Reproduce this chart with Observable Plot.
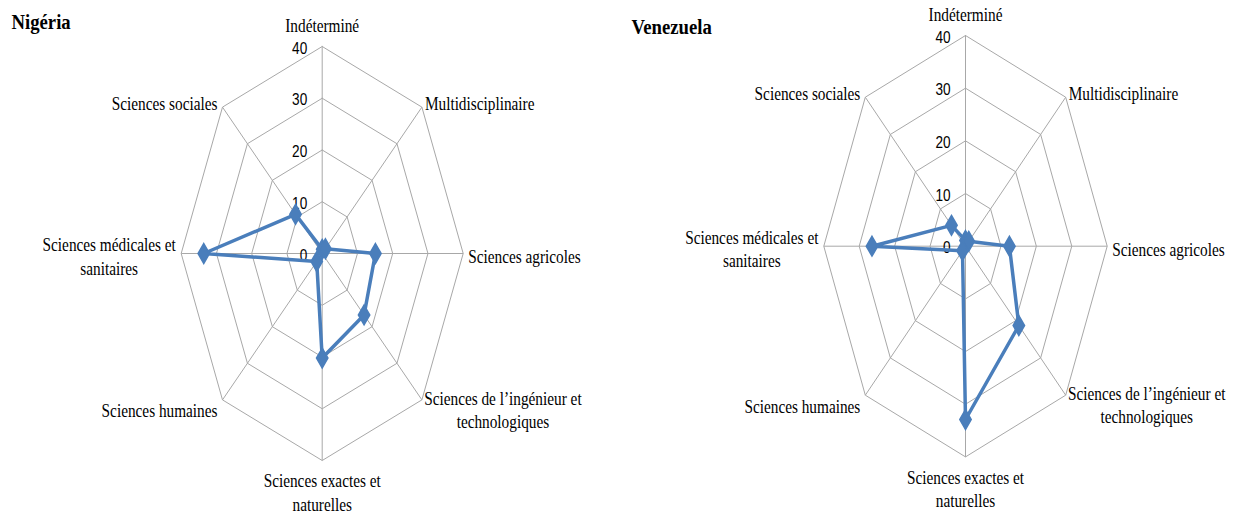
<!DOCTYPE html>
<html>
<head>
<meta charset="utf-8">
<script src="https://cdn.jsdelivr.net/npm/d3@7"></script>
<script src="https://cdn.jsdelivr.net/npm/@observablehq/plot@0.6"></script>
<style>
  body { margin: 0; background: #fff; }
  #wrap { display: flex; width: 1235px; height: 515px; }
</style>
</head>
<body>
<div id="wrap"></div>
<script>
// ---- data ----
const categories = [
  "Indéterminé",
  "Multidisciplinaire",
  "Sciences agricoles",
  "Sciences de l’ingénieur et technologiques",
  "Sciences exactes et naturelles",
  "Sciences humaines",
  "Sciences médicales et sanitaires",
  "Sciences sociales"
];
const categoryLabels = [
  "Indéterminé",
  "Multidisciplinaire",
  "Sciences agricoles",
  "Sciences de l’ingénieur et\ntechnologiques",
  "Sciences exactes et\nnaturelles",
  "Sciences humaines",
  "Sciences médicales et\nsanitaires",
  "Sciences sociales"
];
const nigeria   = [0.8, 1.3, 15.1, 16.8, 20.2, 2.2, 33.6, 10.7];
const venezuela = [1.1, 1.3, 12.4, 21.3, 32.9, 1.2, 26.4, 5.6];
const tickValues = [0, 10, 20, 30, 40];
const countries = ["Nigéria", "Venezuela"];

// ---- layout (not data) ----
const layouts = [
  {width: 620, cx: 321.7, cy: 253, rx: 141, ry: 207, titleDy: 21},
  {width: 615, cx: 345, cy: 245.7, rx: 141.7, ry: 210.7, titleDy: 26}
];
const labelPlacement = [
  {anchor: "middle", dx: 0,   dy: -22},
  {anchor: "start",  dx: 3,   dy: -5},
  {anchor: "start",  dx: 5,   dy: 2},
  {anchor: "middle", dx: 81,  dy: 9},
  {anchor: "middle", dx: 0,   dy: 31},
  {anchor: "end",    dx: -5,  dy: 10},
  {anchor: "middle", dx: -72, dy: 2},
  {anchor: "end",    dx: -5,  dy: -5}
];
const SERIF = "Liberation Serif";
const MAX = 40;
const n = categories.length;
const ang = i => (i * 2 * Math.PI) / n;
const px = (i, r) => r * Math.sin(ang(i));
const py = (i, r) => r * Math.cos(ang(i));

const blue = "#4a7ebb";
const grey = "#a8a8a8";

function radar(values, title, L) {
  const rings = [];
  for (const t of tickValues.filter(t => t > 0)) {
    for (let i = 0; i <= n; i++) rings.push({ring: t, x: px(i % n, t), y: py(i % n, t)});
  }
  const spokes = categories.map((c, i) => ({x: px(i, MAX), y: py(i, MAX)}));
  const pts = values.map((v, i) => ({cat: categories[i], v, x: px(i, v), y: py(i, v)}));
  const labelMarks = categoryLabels.map((lab, i) => Plot.text([lab], {
    x: px(i, MAX), y: py(i, MAX), text: d => d,
    textAnchor: labelPlacement[i].anchor, lineAnchor: "middle",
    dx: labelPlacement[i].dx, dy: labelPlacement[i].dy,
    fontSize: 18, lineHeight: 1.3, fill: "#000", fontFamily: SERIF
  }));

  const svg = Plot.plot({
    width: L.width, height: 515,
    marginTop: 0, marginRight: 0, marginBottom: 0, marginLeft: 0,
    style: {background: "#fff", overflow: "visible"},
    x: {domain: [-MAX, MAX], range: [L.cx - L.rx, L.cx + L.rx], axis: null},
    y: {domain: [-MAX, MAX], range: [L.cy + L.ry, L.cy - L.ry], axis: null},
    marks: [
      Plot.line(rings, {x: "x", y: "y", z: "ring", stroke: grey, strokeWidth: 1}),
      Plot.link(spokes, {x1: 0, y1: 0, x2: "x", y2: "y", stroke: grey, strokeWidth: 1}),
      Plot.text(tickValues, {x: 0, y: d => d, text: d => String(d), textAnchor: "end",
        lineAnchor: "middle", dx: -15, dy: 2, fontSize: 16,
        fontFamily: "Liberation Sans", fill: "#000"}),
      Plot.line(pts, {x: "x", y: "y", curve: "linear-closed", stroke: blue, strokeWidth: 3.5,
        strokeLinejoin: "round"}),
      Plot.dot(pts, {x: "x", y: "y", symbol: "diamond", r: 6, fill: blue, stroke: blue}),
      ...labelMarks,
      Plot.text([title], {frameAnchor: "top-left", text: d => d, textAnchor: "start",
        lineAnchor: "middle", dx: 11, dy: L.titleDy, fontSize: 22, fontWeight: "bold",
        fill: "#000", fontFamily: SERIF})
    ]
  });
  svg.querySelectorAll("text").forEach(t => {
    const tr = t.getAttribute("transform") || "";
    t.setAttribute("transform", tr + " scale(0.85,1)");
  });
  return svg;
}

const wrap = document.getElementById("wrap");
wrap.appendChild(radar(nigeria, countries[0], layouts[0]));
wrap.appendChild(radar(venezuela, countries[1], layouts[1]));
</script>
</body>
</html>
